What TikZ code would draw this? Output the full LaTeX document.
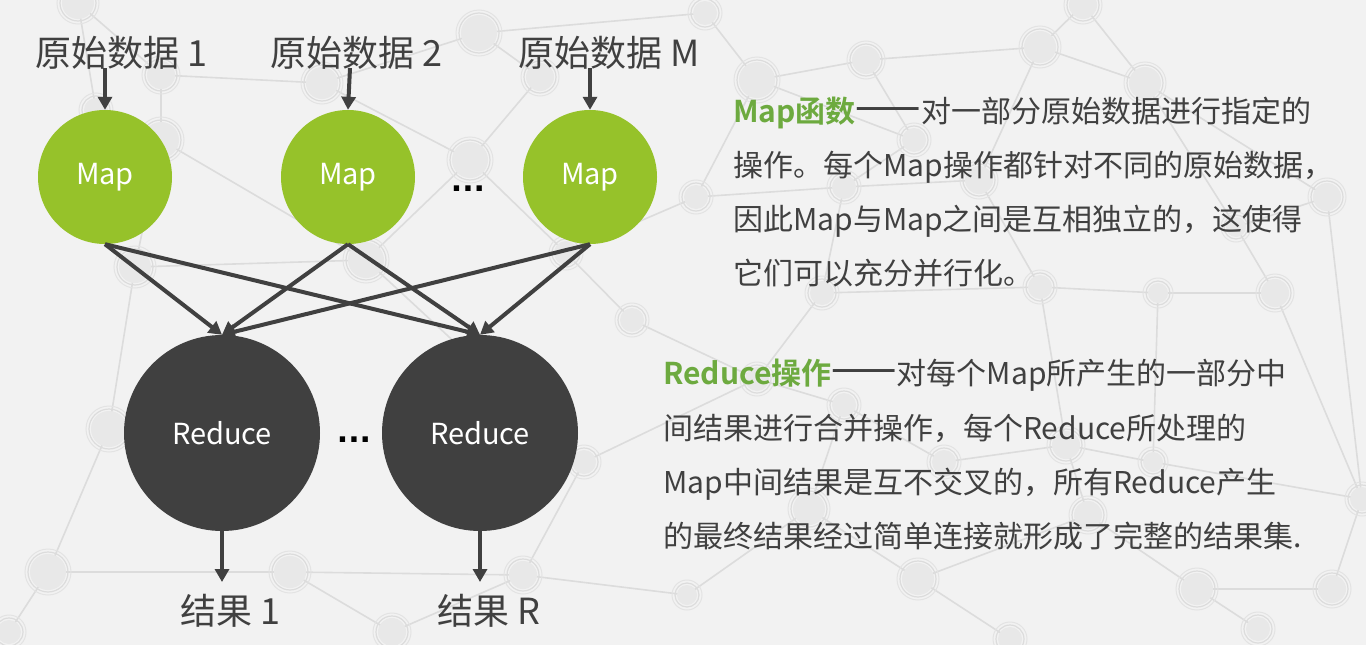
\documentclass[tikz,border=0pt]{standalone}
\usepackage{fontspec}
\setmainfont{Noto Sans CJK SC}[BoldFont={Noto Sans CJK SC Bold}]
\newfontfamily\dotfont{DejaVu Sans}
\usetikzlibrary{arrows.meta}
\definecolor{bgc}{HTML}{F2F2F2}
\definecolor{netl}{HTML}{DCDCDC}
\definecolor{netf}{HTML}{E8E8E8}
\definecolor{mapgreen}{HTML}{96C22A}
\definecolor{headgreen}{HTML}{6DAA3F}
\definecolor{darkc}{HTML}{404040}
\newcommand{\ldash}{\scalebox{1.3}[1.6]{——}}
\tikzset{
  mapc/.style={circle, fill=mapgreen, minimum size=134pt, inner sep=0pt, text=white, font=\fontsize{29}{30}\selectfont},
  redc/.style={circle, fill=darkc, minimum size=196pt, inner sep=0pt, text=white, font=\fontsize{29}{30}\selectfont},
  lbl/.style={anchor=base west, inner sep=0pt, text=darkc, font=\fontsize{36}{40}\selectfont},
  para/.style={anchor=base west, inner sep=0pt, text=darkc, font=\fontsize{30}{32}\selectfont},
  dots/.style={inner sep=0pt, text=black, font=\dotfont\bfseries\fontsize{30}{32}\selectfont},
  arr/.style={draw=darkc, line width=4pt, -{Triangle[length=13pt,width=14pt]}},
  netline/.style={draw=netl, line width=1.6pt},
}
\newcommand{\netnode}[3]{%
  \fill[netf] (#1,#2) circle (#3);
  \draw[netl, line width=1.2pt] (#1,#2) circle ({#3+2});
  \draw[netl!70!bgc, line width=1pt] (#1,#2) circle ({#3+5});
}
\begin{document}
\begin{tikzpicture}[x=1pt,y=-1pt]
\fill[bgc] (0,0) rectangle (1366,645);
\useasboundingbox (0,0) rectangle (1366,645);
% background network
\foreach \n/\x/\y in {A/78/3,B/161/75,C/322/83,D/479/33,E/540/77,F/470/160,G/161/140,H/96/110,I/135/267,J/366/260,K/566/253,L/632/320,M/705/13,N/757/80,O/866/60,P/1040/47,Q/1145/83,R/914/140,S/696/197,T/844/187,U/979/180,V/1083/5,W/1327/197,X/1236/227,Y/1040/287,Z/1158/293,AA/1275/293,AB/822/293,AC/109/429,AD/48/572,AE/290/572,AF/392/632,AG/523/575,AI/584/462,AJ/9/632,AK/757/379,AL/844/405,AM/1066/445,AN/1153/462,AO/944/462,AP/809/509,AQ/1088/515,AR/1362/499,AS/918/579,AT/1197/589,AU/1332/589,AV/687/595,AW/1258/629,AX/1010/639}
  {\coordinate (b\n) at (\x,\y);}
\foreach \a/\b in {A/H,A/B,B/C,B/G,H/G,C/D,C/F,D/E,E/F,D/M,M/N,N/O,O/P,P/Q,O/R,N/R,R/T,T/S,T/U,U/P,U/Y,Q/W,W/X,X/Q,X/AA,Y/Z,Z/AA,AB/T,AB/Y,S/K,K/F,F/J,G/J,G/I,I/AC,J/AI,K/L,L/AK,AK/AL,AL/AO,AO/AM,AM/AN,AN/AR,AM/Y,AL/AP,AP/AS,AS/AQ,AQ/AM,AQ/AT,AT/AU,AU/AR,AT/AW,AS/AX,AI/AG,AG/AV,AE/AF,AE/AG,AD/AE,AD/AJ,AC/AD,AF/AG,AV/AP,AI/AK,W/AR,AA/AR,Z/AN,V/P,V/Q,S/N,I/J,AB/AK}
  {\draw[netline] (b\a) -- (b\b);}
\foreach \x/\y/\r in {78/3/16,161/75/14,322/83/16,479/33/18,540/77/14,470/160/18,161/140/18,96/110/12,135/267/16,366/260/18,566/253/12,632/320/12,705/13/12,757/80/18,866/60/14,1040/47/16,1145/83/16,914/140/12,696/197/12,844/187/12,979/180/14,1083/5/14,1327/197/14,1236/227/10,1040/287/12,1158/293/10,1275/293/14,822/293/12,109/429/18,48/572/18,290/572/16,392/632/14,523/575/14,584/462/12,9/632/12,757/379/12,844/405/12,1066/445/14,1153/462/10,944/462/12,809/509/16,1088/515/14,1362/499/12,918/579/16,1197/589/16,1332/589/14,687/595/10,1258/629/12,1010/639/12}
  {\netnode{\x}{\y}{\r}}
% input labels
\node[lbl] (l1) at (35,66) {原始数据 1};
\node[lbl] (l2) at (270,66) {原始数据 2};
\node[lbl] (l3) at (518,66) {原始数据 M};
\coordinate (i1) at (105,68);
\coordinate (i2) at (350,68);
\coordinate (i3) at (590,68);
% map nodes
\node[mapc] (m1) at (105,177) {\raisebox{-3pt}{Map}};
\node[mapc] (m2) at (348,177) {\raisebox{-3pt}{Map}};
\node[mapc] (m3) at (590,177) {\raisebox{-3pt}{Map}};
\node[dots] (d1) at (468,189) {...};
% reduce nodes
\node[redc] (r1) at (222,433) {Reduce};
\node[redc] (r2) at (480,433) {Reduce};
\node[dots] (d2) at (354,440) {...};
% outputs
\coordinate (o1) at (222,582);
\coordinate (o2) at (480,582);
\node[lbl] (res1) at (180,624) {结果 1};
\node[lbl] (res2) at (437,624) {结果 R};
% arrows
\draw[arr] (i1) -- (m1.north);
\draw[arr] (i2) -- (m2.north);
\draw[arr] (i3) -- (m3.north);
\foreach \m in {m1,m2,m3}{
  \draw[arr] (\m.south) -- (r1.north);
  \draw[arr] (\m.south) -- (r2.north);
}
\draw[arr] (r1.south) -- (o1);
\draw[arr] (r2.south) -- (o2);
% text paragraphs
\node[para] (p1a) at (733,122) {\textcolor{headgreen}{\bfseries Map函数}\ldash 对一部分原始数据进行指定的};
\node[para] (p1b) at (733,176) {操作。每个Map操作都针对不同的原始数据，};
\node[para] (p1c) at (733,230) {因此Map与Map之间是互相独立的，这使得};
\node[para] (p1d) at (733,284) {它们可以充分并行化。};
\node[para] (p2a) at (663,384) {\textcolor{headgreen}{\bfseries Reduce操作}\ldash 对每个Map所产生的一部分中};
\node[para] (p2b) at (663,439) {间结果进行合并操作，每个Reduce所处理的};
\node[para] (p2c) at (663,493) {Map中间结果是互不交叉的，所有Reduce产生};
\node[para] (p2d) at (663,547) {的最终结果经过简单连接就形成了完整的结果集.};
\end{tikzpicture}
\end{document}
